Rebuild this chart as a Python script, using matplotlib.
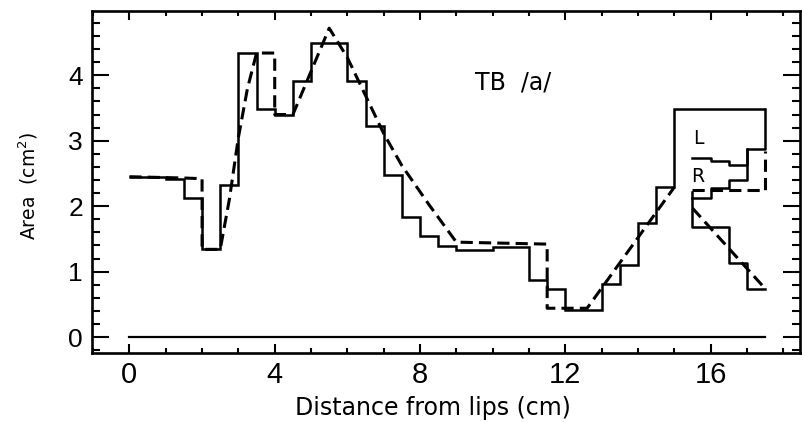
import matplotlib
matplotlib.use("Agg")
import matplotlib.pyplot as plt
from matplotlib.ticker import MultipleLocator

# ---- data (cm from lips, area cm^2) ----
# main solid area function (step edges and values)
main_edges = [0.0, 1.0, 1.5, 2.0, 2.5, 3.0, 3.5, 4.0, 4.5, 5.0, 6.0, 6.5, 7.0, 7.5,
              8.0, 8.5, 9.0, 10.0, 11.0, 11.5, 12.0, 13.0, 13.5, 14.0, 14.5, 15.0, 17.5]
main_vals = [2.45, 2.41, 2.13, 1.34, 2.33, 4.34, 3.49, 3.40, 3.91, 4.49, 3.91, 3.23,
             2.47, 1.84, 1.55, 1.39, 1.33, 1.38, 0.87, 0.74, 0.42, 0.81, 1.10, 1.75,
             2.29, 3.48]

# L branch (solid steps)
L_x = [15.5, 16.0, 16.5, 17.0, 17.5, 17.5]
L_y = [2.74, 2.69, 2.63, 2.88, 2.88, 3.48]

# R branch (solid steps)
R_x = [15.5, 16.0, 16.5, 17.0]
R_y = [2.12, 2.27, 2.40, 2.88]

# lower (main tract continuation) solid steps
low_x = [15.5, 15.5, 16.5, 17.0, 17.5]
low_y = [2.22, 1.68, 1.13, 0.74, 0.74]

# dashed (smoothed) main function
dash_x = [0.0, 1.5, 2.0, 2.0, 2.5, 2.75, 3.0, 3.25, 3.5, 4.0, 4.0, 4.5, 5.5, 6.0,
          7.0, 7.5, 8.25, 9.0, 11.5, 11.5, 12.6, 15.0]
dash_y = [2.45, 2.43, 2.42, 1.34, 1.34, 2.10, 3.05, 3.80, 4.34, 4.34, 3.40, 3.40,
          4.72, 4.27, 3.11, 2.62, 2.02, 1.45, 1.42, 0.44, 0.44, 2.29]

# dashed R branch
dashR_x = [15.5, 17.5, 17.5]
dashR_y = [2.24, 2.24, 2.85]

# dashed lower branch
dashL_x = [15.5, 17.5]
dashL_y = [1.97, 0.74]

# zero reference line
zero_x = [0.0, 17.5]
zero_y = [0.0, 0.0]

xticks = [0, 4, 8, 12, 16]
yticks = [0, 1, 2, 3, 4]

# ---- figure ----
fig = plt.figure(figsize=(8.02, 4.22), dpi=100)
ax = fig.add_axes([92/802, 1 - 353/422, (800-92)/802, (353-10.5)/422])

lw_solid = 1.8
ax.stairs(main_vals, main_edges, baseline=None, color="black", lw=lw_solid)
ax.plot(L_x, L_y, drawstyle="steps-post", color="black", lw=lw_solid)
ax.plot(R_x, R_y, drawstyle="steps-post", color="black", lw=lw_solid)
ax.plot(low_x, low_y, drawstyle="steps-post", color="black", lw=lw_solid)

dash_style = (0, (4, 2))
ax.plot(dash_x, dash_y, color="black", lw=2.2, linestyle=dash_style)
ax.plot(dashR_x, dashR_y, color="black", lw=2.2, linestyle=dash_style)
ax.plot(dashL_x, dashL_y, color="black", lw=2.2, linestyle=dash_style)

ax.plot(zero_x, zero_y, color="black", lw=1.6)

ax.set_xlim(-1.03, 18.46)
ax.set_ylim(-0.244, 4.99)

ax.set_xticks(xticks)
ax.set_xticklabels([str(v) for v in xticks])
ax.set_yticks(yticks)
ax.set_yticklabels([str(v) for v in yticks])
ax.xaxis.set_minor_locator(MultipleLocator(1))
ax.yaxis.set_minor_locator(MultipleLocator(0.2))

ax.tick_params(axis="x", which="both", direction="in", top=True, bottom=True, width=1.5)
ax.tick_params(axis="x", which="major", length=6.5, pad=5.5)
ax.tick_params(axis="x", which="minor", length=3.6)
ax.tick_params(axis="y", which="both", direction="in", left=True, right=True, width=1.5)
ax.tick_params(axis="y", which="major", length=12, pad=6.5)
ax.tick_params(axis="y", which="minor", length=6)

for lab in ax.get_xticklabels():
    lab.set_fontfamily(["Liberation Sans", "DejaVu Sans"])
    lab.set_fontsize(21)
for lab in ax.get_yticklabels():
    lab.set_fontfamily(["Liberation Sans", "DejaVu Sans"])
    lab.set_fontsize(19)

for sp in ax.spines.values():
    sp.set_linewidth(1.9)

ax.set_xlabel("Distance from lips (cm)", fontsize=17, va="center")
ax.xaxis.set_label_coords(0.482, -0.161)
ax.set_ylabel("Area  (cm$^{2}$)", fontsize=13.5, va="center", ha="center")
ax.yaxis.set_label_coords(-0.0904, 0.4876)

ax.text(9.51, 3.89, "TB  /a/", fontsize=17, ha="left", va="center")
ax.text(15.52, 3.04, "L", fontsize=13.5, ha="left", va="center")
ax.text(15.47, 2.45, "R", fontsize=13.5, ha="left", va="center")

fig.savefig("out.png", dpi=100)
